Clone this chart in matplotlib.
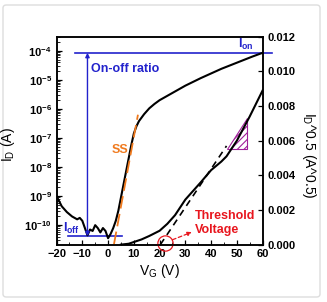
import matplotlib
matplotlib.use("Agg")
import matplotlib.pyplot as plt
import numpy as np
from matplotlib.patches import FancyBboxPatch, Polygon

plt.rcParams['font.family'] = ['Liberation Sans', 'DejaVu Sans']
plt.rcParams['font.weight'] = 'bold'
plt.rcParams['mathtext.fontset'] = 'custom'
plt.rcParams['mathtext.rm'] = 'Liberation Sans:bold'
plt.rcParams['mathtext.bf'] = 'Liberation Sans:bold'
plt.rcParams['mathtext.it'] = 'Liberation Sans:bold'

# ---- data ----
vg_log = [-20, -18, -16, -14, -12, -11, -10, -9, -8, -7, -6, -5, -4, -3, -2, -1, 0,
          1, 2, 3, 4, 5, 6, 7, 8, 9, 10, 11, 12, 14, 16, 18, 20, 22, 24, 27, 30,
          33, 36, 40, 44, 48, 52, 56, 60]
logid = [-9.0, -9.35, -9.55, -9.7, -9.8, -9.75, -9.85, -10.1, -10.35, -10.15, -10.2,
         -10.0, -10.1, -10.25, -10.1, -10.2, -10.45, -10.3, -10.1, -9.85, -9.5, -9.05,
         -8.6, -8.15, -7.7, -7.25, -6.85, -6.6, -6.42, -6.18, -5.98, -5.83, -5.7, -5.6,
         -5.5, -5.35, -5.2, -5.07, -4.94, -4.78, -4.62, -4.48, -4.34, -4.2, -4.07]
vg_sqrt = [5, 8, 10, 13, 16, 20, 23, 26, 30, 33, 36, 40, 44, 46, 50, 55, 60]
sqrt_id = [0.0, 0.00005, 0.00015, 0.0003, 0.0005, 0.0008, 0.0012, 0.0017, 0.0026,
           0.0031, 0.0036, 0.0043, 0.0048, 0.0051, 0.0060, 0.0074, 0.0089]
fit_v = [20.3, 46]
fit_s = [0.0, 0.0057]
ss_v = [2.3, 11.6]
ss_log = [-10.65, -6.2]
ion_log = -4.07
ioff_log = -10.38
ratio_v = -8
tri_v = [46, 54, 54]
tri_s = [0.0055, 0.0055, 0.0073]
vth = 22.2
vth_s = 0.0001

blue = '#2222cc'
orange = '#f07a1e'
red = '#e8161e'
purple = '#a0209a'
plt.rcParams['hatch.color'] = purple
plt.rcParams['hatch.linewidth'] = 0.8

fig = plt.figure(figsize=(3.27, 3.02), dpi=100)
fig.patches.append(FancyBboxPatch((3/327, 5/302), 317/327, 292/302,
                                  boxstyle='round,pad=0,rounding_size=0.01',
                                  transform=fig.transFigure, fc='white',
                                  ec='#dddddd', lw=1.0, zorder=-10))
ax = fig.add_axes([0.173, 0.190, 0.630, 0.688])
ax2 = ax.twinx()

ax.set_yscale('log')
ax.set_xlim(-20, 60)
ax.set_ylim(10**-10.67, 10**-3.52)
ax2.set_ylim(0, 0.012)

ax.plot(vg_log, 10**np.array(logid), color='black', lw=1.5, zorder=3)
ax.plot(ss_v, 10**np.array(ss_log), color=orange, lw=1.3, ls=(0, (7, 3)), zorder=4)

ax2.plot(vg_sqrt, sqrt_id, color='black', lw=1.5)
ax2.plot(fit_v, fit_s, color='black', lw=1.2, ls=(0, (4, 3)))
ax2.add_patch(Polygon(list(zip(tri_v, tri_s)), closed=True, fc='none',
                      ec=purple, hatch='/////', lw=0.8))

# on/off lines
ax.plot([-13, 63.5], [10**ion_log] * 2, color=blue, lw=1.2, clip_on=False)
ax.plot([-15.7, 5.4], [10**ioff_log] * 2, color=blue, lw=1.2)
ax.annotate('', xy=(ratio_v, 10**ion_log), xytext=(ratio_v, 10**ioff_log),
            arrowprops=dict(arrowstyle='<|-|>', color=blue, lw=1.0,
                            mutation_scale=6, shrinkA=0, shrinkB=0))
ax.text(-6.5, 10**-4.62, 'On-off ratio', color=blue, fontsize=9, va='center', ha='left')
ax.text(56.5, 10**(ion_log + 0.02), r'$\mathregular{I_{on}}$', color=blue, fontsize=9,
        ha='right', va='bottom')
ax.text(-17.5, 10**(ioff_log + 0.02), r'$\mathregular{I_{off}}$', color=blue, fontsize=9,
        ha='left', va='bottom')
ax.text(1.5, 10**-7.4, 'SS', color=orange, fontsize=9, ha='left', va='center')

# threshold
ax2.plot([vth], [vth_s], 'o', ms=11, mfc='none', mec=red, mew=0.9, clip_on=False)
ax2.annotate('', xy=(32.5, 0.00072), xytext=(25.0, 0.00028),
             arrowprops=dict(arrowstyle='-|>', color=red, lw=0.9, ls=(0, (3, 2)),
                             mutation_scale=6, shrinkA=0, shrinkB=0))
ax2.text(33.8, 0.00125, 'Threshold\nVoltage', color=red, fontsize=9, ha='left',
         va='center', linespacing=1.15)

# ticks
ax.set_xticks([-20, -10, 0, 10, 20, 30, 40, 50, 60])
ax.set_xticks(np.arange(-20, 61, 5), minor=True)
ax.set_yticks([10.0**k for k in range(-10, -3)])
ax.set_yticklabels([r'$\mathregular{10^{%d}}$' % k for k in range(-10, -3)])
ax2.set_yticks([0, 0.002, 0.004, 0.006, 0.008, 0.010, 0.012])
ax2.set_yticklabels(['0.000', '0.002', '0.004', '0.006', '0.008', '0.010', '0.012'])
for a in (ax, ax2):
    a.tick_params(direction='in', labelsize=8, length=3.5, width=0.9)
    a.tick_params(which='minor', direction='in', length=2, width=0.6)
ax.tick_params(axis='y', which='both', right=False)
ax.tick_params(axis='x', top=False, which='both')
for a in (ax, ax2):
    for s in a.spines.values():
        s.set_linewidth(1.1)

ax.set_xlabel(r'$\mathregular{V_G}$ (V)', fontsize=10, labelpad=2)
ax.set_ylabel(r'$\mathregular{I_D}$ (A)', fontsize=10)
ax.yaxis.set_label_coords(-0.19, 0.48)
ax2.set_ylabel(r'$\mathregular{I_D}$^0.5 (A^0.5)', fontsize=10, rotation=270)
ax2.yaxis.set_label_coords(1.27, 0.43)

fig.savefig('out.png', dpi=100)
